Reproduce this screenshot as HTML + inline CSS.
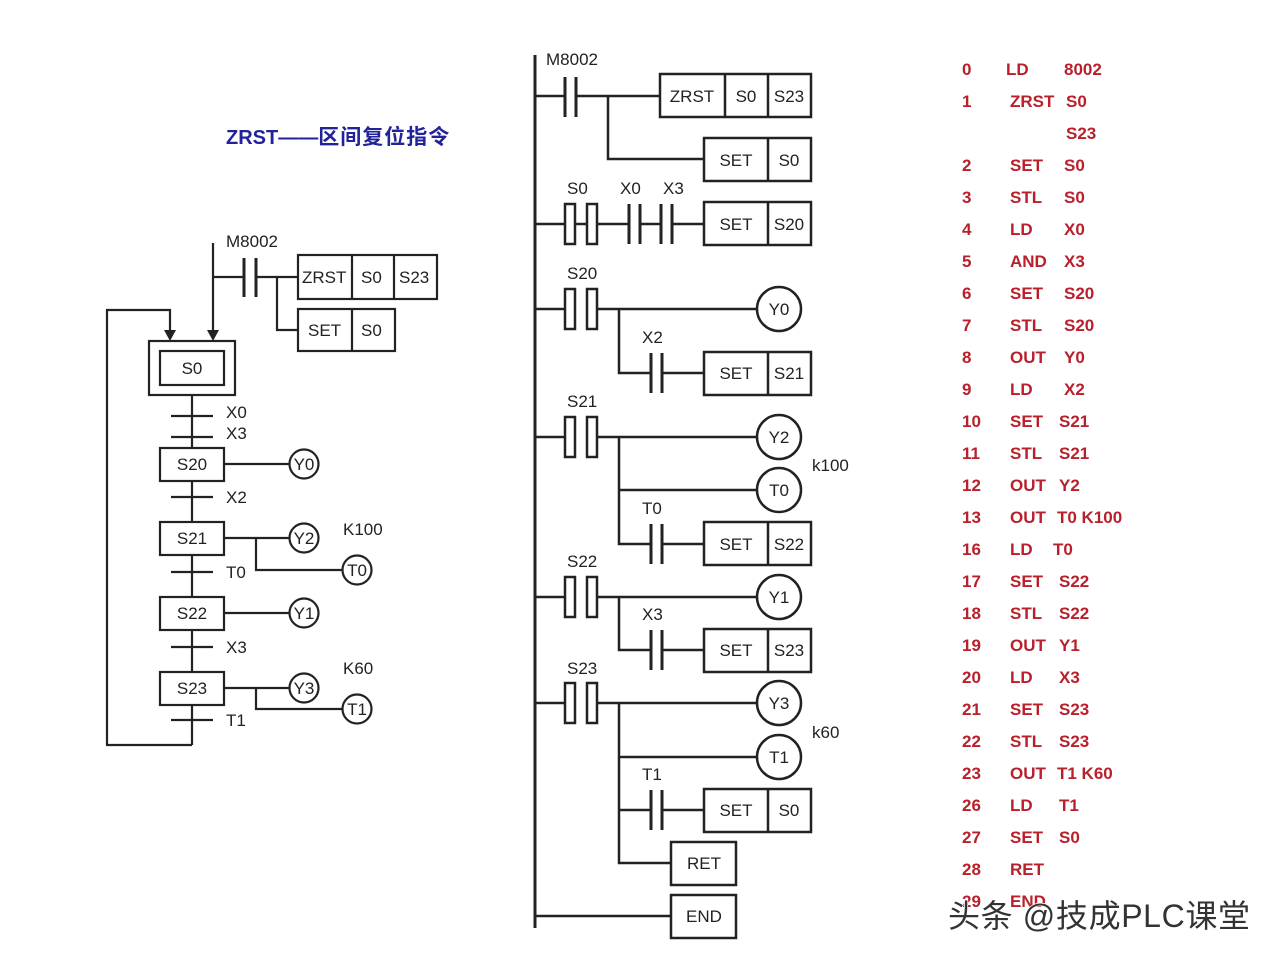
<!DOCTYPE html>
<html><head><meta charset="utf-8"><style>
html,body{margin:0;padding:0;background:#fff;}
svg{display:block;}
text{font-family:"Liberation Sans","Noto Sans CJK SC",sans-serif;}
.t{font-size:17px;fill:#222;}
.c{font-size:17px;fill:#222;text-anchor:middle;}
.r{font-size:17px;fill:#b8202c;font-weight:bold;}
</style></head><body>
<svg width="1280" height="960" viewBox="0 0 1280 960" xmlns="http://www.w3.org/2000/svg">
<text x="226" y="144" style="font-size:20px;font-weight:bold;fill:#22239a;font-family:'Liberation Sans','Noto Sans CJK SC',sans-serif">ZRST——<tspan style="font-size:21px" letter-spacing="1">区间复位指令</tspan></text>

<!-- LEFT SFC -->
<g stroke="#222" stroke-width="2.2" fill="none">
<line x1="213" y1="243" x2="213" y2="332"/>
<polyline points="192,745 107,745 107,310 170,310 170,332"/>
<line x1="213" y1="277" x2="244" y2="277"/>
<line x1="244" y1="258" x2="244" y2="297" stroke-width="3"/>
<line x1="256" y1="258" x2="256" y2="297" stroke-width="3"/>
<line x1="256" y1="277" x2="298" y2="277"/>
<polyline points="277,277 277,330 298,330"/>
<rect x="298" y="255" width="139" height="44"/>
<line x1="352" y1="255" x2="352" y2="299"/><line x1="394" y1="255" x2="394" y2="299"/>
<rect x="298" y="309" width="97" height="42"/>
<line x1="352" y1="309" x2="352" y2="351"/>
<rect x="149" y="341" width="86" height="54"/>
<rect x="160" y="351" width="64" height="34"/>
<line x1="192" y1="395" x2="192" y2="745"/>
<line x1="171" y1="416" x2="213" y2="416"/><line x1="171" y1="437" x2="213" y2="437"/>
<line x1="171" y1="497" x2="213" y2="497"/><line x1="171" y1="572" x2="213" y2="572"/>
<line x1="171" y1="647" x2="213" y2="647"/><line x1="171" y1="720" x2="213" y2="720"/>
<rect x="160" y="448" width="64" height="33" fill="#fff"/>
<rect x="160" y="522" width="64" height="33" fill="#fff"/>
<rect x="160" y="597" width="64" height="33" fill="#fff"/>
<rect x="160" y="672" width="64" height="33" fill="#fff"/>
<line x1="224" y1="464" x2="290" y2="464"/><circle cx="304" cy="464" r="14.5"/>
<line x1="224" y1="538" x2="290" y2="538"/><circle cx="304" cy="538" r="14.5"/>
<polyline points="256,538 256,570 343,570"/><circle cx="357" cy="570" r="14.5"/>
<line x1="224" y1="613" x2="290" y2="613"/><circle cx="304" cy="613" r="14.5"/>
<line x1="224" y1="688" x2="290" y2="688"/><circle cx="304" cy="688" r="14.5"/>
<polyline points="256,688 256,709 343,709"/><circle cx="357" cy="709" r="14.5"/>
</g>
<polygon points="207,330 219,330 213,341" fill="#222"/>
<polygon points="164,330 176,330 170,341" fill="#222"/>
<g class="t">
<text x="226" y="247">M8002</text>
<text x="302" y="283">ZRST</text><text x="361" y="283">S0</text><text x="399" y="283">S23</text>
<text x="308" y="336">SET</text><text x="361" y="336">S0</text>
<text x="226" y="418">X0</text><text x="226" y="439">X3</text><text x="226" y="503">X2</text>
<text x="226" y="578">T0</text><text x="226" y="653">X3</text><text x="226" y="726">T1</text>
<text x="343" y="535">K100</text><text x="343" y="674">K60</text>
</g>
<g class="c">
<text x="192" y="374">S0</text><text x="192" y="470">S20</text><text x="192" y="544">S21</text>
<text x="192" y="619">S22</text><text x="192" y="694">S23</text>
<text x="304" y="470">Y0</text><text x="304" y="544">Y2</text><text x="357" y="576">T0</text>
<text x="304" y="619">Y1</text><text x="304" y="694">Y3</text><text x="357" y="715">T1</text>
</g>

<!-- LADDER -->
<g stroke="#222" stroke-width="2.5" fill="none">
<line x1="535" y1="55" x2="535" y2="928" stroke-width="3"/>
<line x1="535" y1="96" x2="565" y2="96"/>
<line x1="565" y1="77" x2="565" y2="117" stroke-width="3"/><line x1="576" y1="77" x2="576" y2="117" stroke-width="3"/>
<line x1="576" y1="96" x2="660" y2="96"/>
<polyline points="608,96 608,159 704,159"/>
<rect x="660" y="74" width="151" height="43"/><line x1="725" y1="74" x2="725" y2="117"/><line x1="768" y1="74" x2="768" y2="117"/>
<rect x="704" y="138" width="107" height="43"/><line x1="768" y1="138" x2="768" y2="181"/>
<line x1="535" y1="224" x2="565" y2="224"/>
<rect x="565" y="204" width="10" height="40"/><rect x="587" y="204" width="10" height="40"/>
<line x1="575" y1="224" x2="587" y2="224"/>
<line x1="597" y1="224" x2="629" y2="224"/>
<line x1="629" y1="204" x2="629" y2="244" stroke-width="3"/><line x1="640" y1="204" x2="640" y2="244" stroke-width="3"/>
<line x1="640" y1="224" x2="661" y2="224"/>
<line x1="661" y1="204" x2="661" y2="244" stroke-width="3"/><line x1="672" y1="204" x2="672" y2="244" stroke-width="3"/>
<line x1="672" y1="224" x2="704" y2="224"/>
<rect x="704" y="202" width="107" height="43"/><line x1="768" y1="202" x2="768" y2="245"/>
<line x1="535" y1="309" x2="565" y2="309"/>
<rect x="565" y="289" width="10" height="40"/><rect x="587" y="289" width="10" height="40"/>
<line x1="597" y1="309" x2="757" y2="309"/><circle cx="779" cy="309" r="22"/>
<polyline points="619,309 619,373 650,373"/>
<line x1="651" y1="353" x2="651" y2="393" stroke-width="3"/><line x1="662" y1="353" x2="662" y2="393" stroke-width="3"/>
<line x1="662" y1="373" x2="704" y2="373"/>
<rect x="704" y="352" width="107" height="43"/><line x1="768" y1="352" x2="768" y2="395"/>
<line x1="535" y1="437" x2="565" y2="437"/>
<rect x="565" y="417" width="10" height="40"/><rect x="587" y="417" width="10" height="40"/>
<line x1="597" y1="437" x2="757" y2="437"/><circle cx="779" cy="437" r="22"/>
<polyline points="619,437 619,544 650,544"/>
<line x1="619" y1="490" x2="757" y2="490"/><circle cx="779" cy="490" r="22"/>
<line x1="651" y1="524" x2="651" y2="564" stroke-width="3"/><line x1="662" y1="524" x2="662" y2="564" stroke-width="3"/>
<line x1="662" y1="544" x2="704" y2="544"/>
<rect x="704" y="522" width="107" height="43"/><line x1="768" y1="522" x2="768" y2="565"/>
<line x1="535" y1="597" x2="565" y2="597"/>
<rect x="565" y="577" width="10" height="40"/><rect x="587" y="577" width="10" height="40"/>
<line x1="597" y1="597" x2="757" y2="597"/><circle cx="779" cy="597" r="22"/>
<polyline points="619,597 619,650 650,650"/>
<line x1="651" y1="630" x2="651" y2="670" stroke-width="3"/><line x1="662" y1="630" x2="662" y2="670" stroke-width="3"/>
<line x1="662" y1="650" x2="704" y2="650"/>
<rect x="704" y="629" width="107" height="43"/><line x1="768" y1="629" x2="768" y2="672"/>
<line x1="535" y1="703" x2="565" y2="703"/>
<rect x="565" y="683" width="10" height="40"/><rect x="587" y="683" width="10" height="40"/>
<line x1="597" y1="703" x2="757" y2="703"/><circle cx="779" cy="703" r="22"/>
<polyline points="619,703 619,863 671,863"/>
<line x1="619" y1="757" x2="757" y2="757"/><circle cx="779" cy="757" r="22"/>
<line x1="619" y1="810" x2="651" y2="810"/>
<line x1="651" y1="790" x2="651" y2="830" stroke-width="3"/><line x1="662" y1="790" x2="662" y2="830" stroke-width="3"/>
<line x1="662" y1="810" x2="704" y2="810"/>
<rect x="704" y="789" width="107" height="43"/><line x1="768" y1="789" x2="768" y2="832"/>
<rect x="671" y="842" width="65" height="43"/>
<line x1="535" y1="916" x2="671" y2="916"/>
<rect x="671" y="895" width="65" height="43"/>
</g>
<g class="t">
<text x="546" y="65">M8002</text>
<text x="567" y="194">S0</text><text x="620" y="194">X0</text><text x="663" y="194">X3</text>
<text x="567" y="279">S20</text><text x="642" y="343">X2</text>
<text x="567" y="407">S21</text><text x="642" y="514">T0</text><text x="812" y="471">k100</text>
<text x="567" y="567">S22</text><text x="642" y="620">X3</text>
<text x="567" y="674">S23</text><text x="642" y="780">T1</text><text x="812" y="738">k60</text>
</g>
<g class="c">
<text x="692" y="102">ZRST</text><text x="746" y="102">S0</text><text x="789" y="102">S23</text>
<text x="736" y="166">SET</text><text x="789" y="166">S0</text>
<text x="736" y="230">SET</text><text x="789" y="230">S20</text>
<text x="779" y="315">Y0</text>
<text x="736" y="379">SET</text><text x="789" y="379">S21</text>
<text x="779" y="443">Y2</text><text x="779" y="496">T0</text>
<text x="736" y="550">SET</text><text x="789" y="550">S22</text>
<text x="779" y="603">Y1</text>
<text x="736" y="656">SET</text><text x="789" y="656">S23</text>
<text x="779" y="709">Y3</text><text x="779" y="763">T1</text>
<text x="736" y="816">SET</text><text x="789" y="816">S0</text>
<text x="704" y="869">RET</text><text x="704" y="922">END</text>
</g>

<g class="r">
<text x="962" y="75">0</text><text x="1006" y="75">LD</text><text x="1064" y="75">8002</text>
<text x="962" y="107">1</text><text x="1010" y="107">ZRST</text><text x="1066" y="107">S0</text>
<text x="1066" y="139">S23</text>
<text x="962" y="171">2</text><text x="1010" y="171">SET</text><text x="1064" y="171">S0</text>
<text x="962" y="203">3</text><text x="1010" y="203">STL</text><text x="1064" y="203">S0</text>
<text x="962" y="235">4</text><text x="1010" y="235">LD</text><text x="1064" y="235">X0</text>
<text x="962" y="267">5</text><text x="1010" y="267">AND</text><text x="1064" y="267">X3</text>
<text x="962" y="299">6</text><text x="1010" y="299">SET</text><text x="1064" y="299">S20</text>
<text x="962" y="331">7</text><text x="1010" y="331">STL</text><text x="1064" y="331">S20</text>
<text x="962" y="363">8</text><text x="1010" y="363">OUT</text><text x="1064" y="363">Y0</text>
<text x="962" y="395">9</text><text x="1010" y="395">LD</text><text x="1064" y="395">X2</text>
<text x="962" y="427">10</text><text x="1010" y="427">SET</text><text x="1059" y="427">S21</text>
<text x="962" y="459">11</text><text x="1010" y="459">STL</text><text x="1059" y="459">S21</text>
<text x="962" y="491">12</text><text x="1010" y="491">OUT</text><text x="1059" y="491">Y2</text>
<text x="962" y="523">13</text><text x="1010" y="523">OUT</text><text x="1057" y="523">T0 K100</text>
<text x="962" y="555">16</text><text x="1010" y="555">LD</text><text x="1053" y="555">T0</text>
<text x="962" y="587">17</text><text x="1010" y="587">SET</text><text x="1059" y="587">S22</text>
<text x="962" y="619">18</text><text x="1010" y="619">STL</text><text x="1059" y="619">S22</text>
<text x="962" y="651">19</text><text x="1010" y="651">OUT</text><text x="1059" y="651">Y1</text>
<text x="962" y="683">20</text><text x="1010" y="683">LD</text><text x="1059" y="683">X3</text>
<text x="962" y="715">21</text><text x="1010" y="715">SET</text><text x="1059" y="715">S23</text>
<text x="962" y="747">22</text><text x="1010" y="747">STL</text><text x="1059" y="747">S23</text>
<text x="962" y="779">23</text><text x="1010" y="779">OUT</text><text x="1057" y="779">T1  K60</text>
<text x="962" y="811">26</text><text x="1010" y="811">LD</text><text x="1059" y="811">T1</text>
<text x="962" y="843">27</text><text x="1010" y="843">SET</text><text x="1059" y="843">S0</text>
<text x="962" y="875">28</text><text x="1010" y="875">RET</text>
<text x="962" y="907">29</text><text x="1010" y="907">END</text>
</g>
<text x="948" y="927" textLength="302" style="font-size:32px;fill:#333;stroke:#fff;stroke-width:1.5;paint-order:stroke;font-family:'Liberation Sans','Noto Sans CJK SC',sans-serif">头条 @技成PLC课堂</text>
</svg>
</body></html>
